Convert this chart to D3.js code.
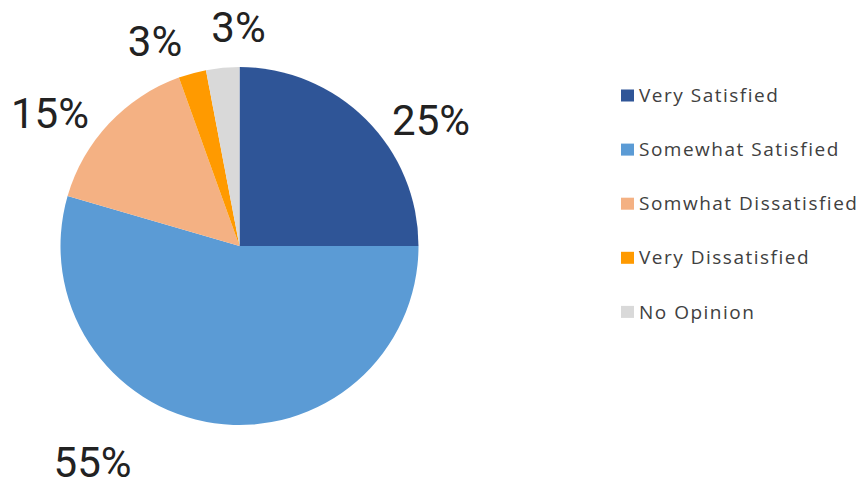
<!DOCTYPE html>
<html>
<head>
<meta charset="utf-8">
<script src="https://cdn.jsdelivr.net/npm/d3@7"></script>
<style>
  html, body { margin: 0; padding: 0; background: #fff; }
  svg { display: block; }
</style>
</head>
<body>
<svg id="chart" width="858" height="480"></svg>
<script>
// ---- data ----
const categories = ["Very Satisfied", "Somewhat Satisfied", "Somwhat Dissatisfied", "Very Dissatisfied", "No Opinion"];
const values = [25, 54.5, 15, 2.5, 3];
const colors = ["#2F5597", "#5B9BD5", "#F4B183", "#FF9A00", "#D9D9D9"];

// ---- layout (not data) ----
const cx = 239.5, cy = 246, r = 179;
const labelRadius = 215;
const labelOffsets = [[39.5, 26], [-116.7, 3], [-32.8, 14.5], [-27.8, 2.4], [19.2, -4.4]];

const total = d3.sum(values);
const pctLabel = v => Math.round(v / total * 100) + "%";

const svg = d3.select("#chart");
const g = svg.append("g").attr("transform", `translate(${cx},${cy})`);

const pie = d3.pie().sort(null).value(d => d);
const arcs = pie(values);
const arc = d3.arc().innerRadius(0).outerRadius(r);
const labelArc = d3.arc().innerRadius(labelRadius).outerRadius(labelRadius);

g.selectAll("path.slice")
  .data(arcs)
  .join("path")
  .attr("class", "slice")
  .attr("d", arc)
  .attr("fill", (d, i) => colors[i]);

g.selectAll("text.lbl")
  .data(arcs)
  .join("text")
  .attr("class", "lbl")
  .attr("transform", (d, i) => {
    const c = labelArc.centroid(d);
    return `translate(${c[0] + labelOffsets[i][0]},${c[1] + labelOffsets[i][1]})`;
  })
  .attr("text-anchor", "middle")
  .attr("dy", "0.355em")
  .attr("font-family", "Roboto, 'Noto Sans', sans-serif")
  .attr("font-size", 42)
  .attr("fill", "#222222")
  .text(d => pctLabel(d.data));

// ---- legend ----
const legend = svg.append("g").attr("transform", "translate(621,95.5)");
const rows = legend.selectAll("g.row")
  .data(categories)
  .join("g")
  .attr("class", "row")
  .attr("transform", (d, i) => `translate(0,${i * 54.1})`);

rows.append("rect")
  .attr("x", 0).attr("y", -6)
  .attr("width", 13).attr("height", 12)
  .attr("fill", (d, i) => colors[i]);

rows.append("text")
  .attr("x", 18)
  .attr("dy", "0.35em")
  .attr("font-family", "'Open Sans', sans-serif")
  .attr("font-size", 19)
  .attr("letter-spacing", "1.5px")
  .attr("fill", "#404040")
  .text(d => d);
</script>
</body>
</html>
